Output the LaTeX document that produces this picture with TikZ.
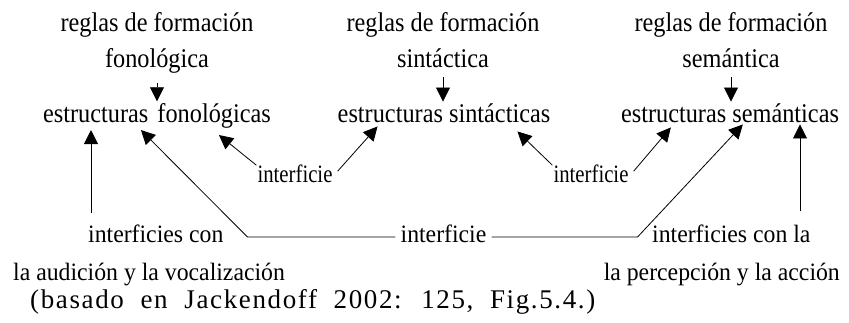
\documentclass[tikz,border=0pt]{standalone}
\usepackage{fontspec}
\setmainfont{Liberation Serif}
\newfontfamily\topfam[FakeStretch=0.9]{Liberation Serif}
\newfontfamily\smlfam[FakeStretch=0.83]{Liberation Serif}
\newfontfamily\botfam[FakeStretch=0.95]{Liberation Serif}
\newfontfamily\srcfam[LetterSpace=6,WordSpace=2]{Liberation Serif}
\usetikzlibrary{arrows.meta}

\begin{document}
\begin{tikzpicture}[x=1pt,y=-1pt,
  txt/.style={inner sep=0pt,anchor=base,font=\topfam\fontsize{27}{30}\selectfont},
  sml/.style={inner sep=0pt,anchor=base,font=\smlfam\fontsize{25}{28}\selectfont},
  big/.style={inner sep=0pt,anchor=base,font=\botfam\fontsize{25}{28}\selectfont},
  arr/.style={line width=0.8pt,-{Triangle[length=14pt,width=14pt]}}]
\useasboundingbox (0,0) rectangle (849,323);

% Formation rules
\node[txt] (rfon) at (157,32) {reglas de formación};
\node[txt] (fon) at (157,68) {fonológica};
\node[txt] (rsin) at (443,32) {reglas de formación};
\node[txt] (sin) at (443,68) {sintáctica};
\node[txt] (rsem) at (731,32) {reglas de formación};
\node[txt] (sem) at (731,68) {semántica};

% Structures
\node[txt] (efon) at (157,123) {estructuras\hspace{3pt} fonológicas};
\node[txt] (esin) at (444,123) {estructuras sintácticas};
\node[txt] (esem) at (730,123) {estructuras semánticas};

% Interfaces
\node[sml] (ifs) at (295,183) {interficie};
\node[sml] (ism) at (591,183) {interficie};
\node[big] (imid) at (443.5,243) {interficie};
\node[big,anchor=base west] (iaud) at (88,243) {interficies con};
\node[big,anchor=base west] (iper) at (652,243) {interficies con la};
\node[big,anchor=base west] (aud) at (13,280) {la audición y la vocalización};
\node[big,anchor=base east] (per) at (840,280) {la percepción y la acción};

% Source
\node[inner sep=0pt,anchor=base west,font=\srcfam\fontsize{27}{30}\selectfont] (src) at (30,308) {(basado en Jackendoff 2002: 125, Fig.5.4.)};

% Rules to structures
\foreach \a/\b in {fon/efon,sin/esin,sem/esem}
  \draw[arr,shorten <=9pt,shorten >=2.5pt] (\a.south) -- (\a.south |- \b.north);

% Peripheral interfaces
\draw[arr,shorten >=1pt] ([xshift=3pt,yshift=12pt]iaud.north west) coordinate (va) -- (va |- efon.south);
\draw[arr,shorten >=1pt] ([xshift=148pt,yshift=14pt]iper.north west) coordinate (vb) -- (vb |- esem.south);

% Long interface
\draw[arr] ([xshift=-5pt,yshift=6pt]imid.base west) -- ++(-148,0) -- ([xshift=98pt,yshift=-1pt]efon.south west);
\draw[arr] ([xshift=5pt,yshift=6pt]imid.base east) -- ++(146,0) -- ([xshift=122pt,yshift=-1pt]esem.south west);

% Short interfaces
\draw[arr] ([xshift=-1pt]ifs.north west) -- ([xshift=176pt,yshift=-6pt]efon.south west);
\draw[arr] ([xshift=5pt,yshift=-6pt]ifs.north east) -- ([xshift=40pt,yshift=-3pt]esin.south west);
\draw[arr] ([xshift=-1pt]ism.north west) -- ([xshift=-33pt,yshift=-8pt]esin.south east);
\draw[arr] ([xshift=5pt,yshift=-6pt]ism.north east) -- ([xshift=50pt,yshift=-4pt]esem.south west);
\end{tikzpicture}
\end{document}
